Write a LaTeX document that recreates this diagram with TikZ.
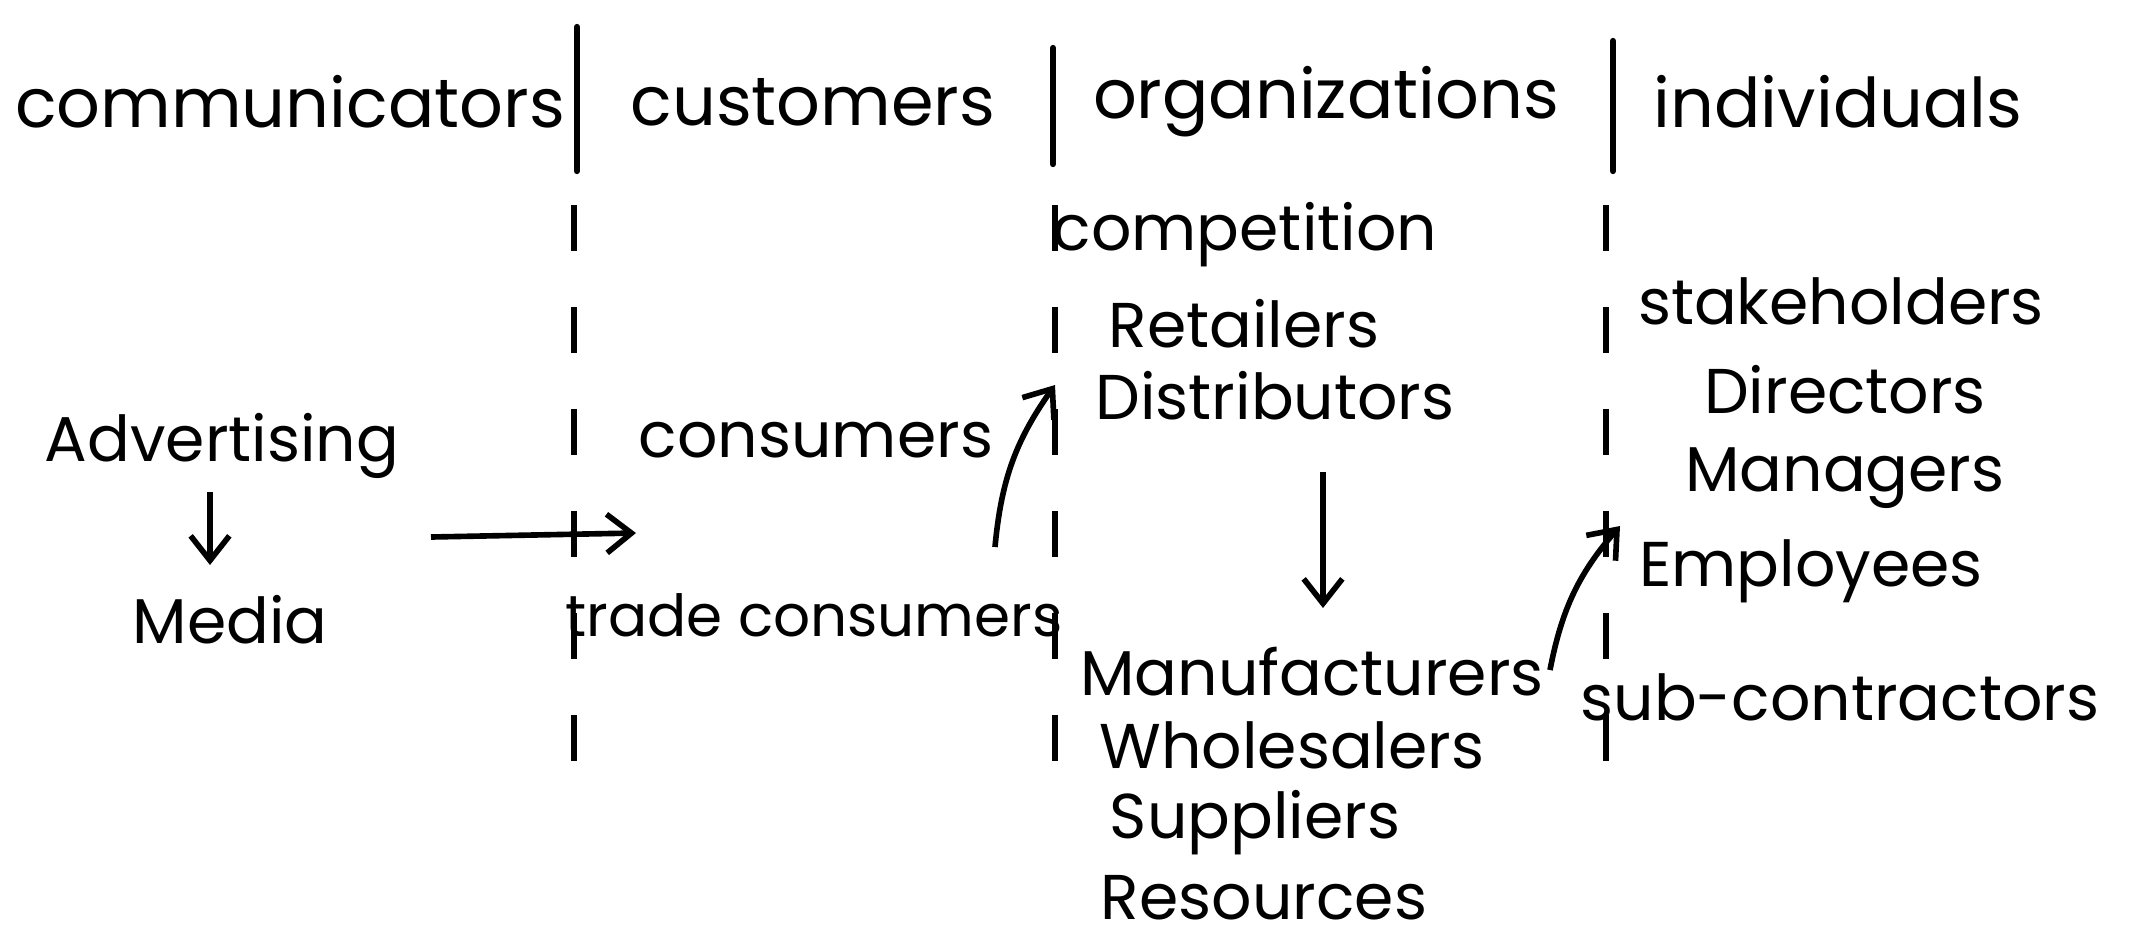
\documentclass[tikz,border=0pt]{standalone}
\usetikzlibrary{arrows.meta}
\usepackage{fontspec}
\setmainfont{Poppins}
\begin{document}
\begin{tikzpicture}[x=0.01cm,y=-0.01cm,
  hd/.style={font=\fontsize{19.5}{22}\selectfont},
  it/.style={font=\fontsize{18}{21}\selectfont},
  sep/.style={line width=1.8pt,line cap=round},
  dsep/.style={line width=1.8pt,dash pattern=on 13pt off 16pt},
  arr/.style={line width=1.6pt,-{Straight Barb[length=7pt,width=11pt]}}]
\useasboundingbox (0,0) rectangle (2132,944);
\node[hd] (h1) at (290,102) {communicators};
\node[hd] (h2) at (813,102) {customers};
\node[hd] (h3) at (1326,102) {organizations};
\node[hd] (h4) at (1838,102) {individuals};
\coordinate (s1a) at (577,27); \coordinate (s1b) at (577,171);
\coordinate (s2a) at (1053,48); \coordinate (s2b) at (1053,164);
\coordinate (s3a) at (1613,41); \coordinate (s3b) at (1613,171);
\draw[sep] (s1a)--(s1b); \draw[sep] (s2a)--(s2b); \draw[sep] (s3a)--(s3b);
\coordinate (d1a) at (574,205); \coordinate (d1b) at (574,800);
\coordinate (d2a) at (1055,205); \coordinate (d2b) at (1055,790);
\coordinate (d3a) at (1606,205); \coordinate (d3b) at (1606,815);
\draw[dsep] (d1a)--(d1b); \draw[dsep] (d2a)--(d2b); \draw[dsep] (d3a)--(d3b);
\node[it] (adv) at (222,446) {Advertising};
\node[it] (med) at (230,620) {Media};
\coordinate (m1) at (210,492); \coordinate (m2) at (210,565);
\draw[arr] (m1) -- (m2);
\node[it] (con) at (816,440) {consumers};
\node[it, font=\fontsize{16.5}{20}\selectfont] (trc) at (814,615) {trade consumers};
\coordinate (a1) at (431,537); \coordinate (a2) at (636,533);
\draw[arr] (a1) -- (a2);
\node[it] (cmp) at (1245,235) {competition};
\node[it] (ret) at (1244,324) {Retailers};
\node[it] (dis) at (1275,396) {Distributors};
\coordinate (b1) at (995,547); \coordinate (b2) at (1055,385);
\draw[arr] (b1) to[bend left=15] (b2);
\coordinate (c1) at (1323,472); \coordinate (c2) at (1323,608);
\draw[arr] (c1) -- (c2);
\node[it] (man) at (1312,672) {Manufacturers};
\node[it] (who) at (1292,745) {Wholesalers};
\node[it] (sup) at (1255,823) {Suppliers};
\node[it] (res) at (1264,898) {Resources};
\coordinate (e1) at (1550,670); \coordinate (e2) at (1620,526);
\draw[arr] (e1) to[bend left=15] (e2);
\node[it] (stk) at (1841,301) {stakeholders};
\node[it] (dir) at (1845,390) {Directors};
\node[it] (mgr) at (1845,478) {Managers};
\node[it] (emp) at (1811,571) {Employees};
\node[it] (sub) at (1840,697) {sub-contractors};
\end{tikzpicture}
\end{document}
